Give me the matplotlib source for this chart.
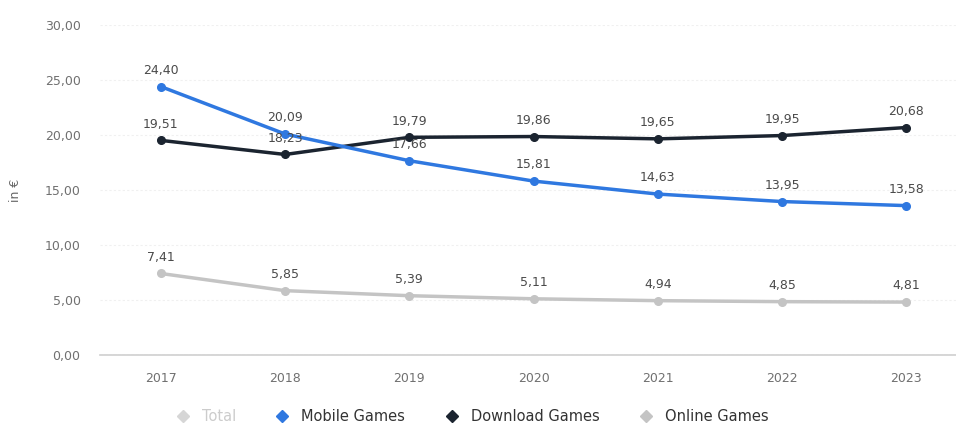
import matplotlib
matplotlib.use("Agg")
import matplotlib.pyplot as plt
from matplotlib.lines import Line2D

# Data
years = ["2017", "2018", "2019", "2020", "2021", "2022", "2023"]
mobile = [24.40, 20.09, 17.66, 15.81, 14.63, 13.95, 13.58]
download = [19.51, 18.23, 19.79, 19.86, 19.65, 19.95, 20.68]
online = [7.41, 5.85, 5.39, 5.11, 4.94, 4.85, 4.81]
yticks = [0, 5, 10, 15, 20, 25, 30]

c_mobile = "#2f78e0"
c_download = "#1b2430"
c_online = "#c4c4c4"
c_total = "#d6d6d6"

plt.rcParams["font.family"] = ["DejaVu Sans"]

fig = plt.figure(figsize=(9.56, 4.26), dpi=100)
ax = fig.add_axes([100 / 956, 71 / 426, 856 / 956, 330 / 426])

x = list(range(len(years)))

def fmt(v):
    return f"{v:.2f}".replace(".", ",")

for vals, col in [(online, c_online), (download, c_download), (mobile, c_mobile)]:
    ax.plot(x, vals, color=col, lw=2.5, marker="o", ms=5.5, zorder=3)
    for xi, v in zip(x, vals):
        ax.annotate(fmt(v), (xi, v), xytext=(0, 7), textcoords="offset points",
                    ha="center", va="bottom", fontsize=9, color="#4a4a4a", zorder=4)

ax.set_xlim(-0.49, 6.40)
ax.set_ylim(0, 30)
ax.set_xticks(x)
ax.set_xticklabels(years)
ax.set_yticks(yticks)
ax.set_yticklabels([fmt(v) for v in yticks])
ax.tick_params(axis="both", length=0, labelsize=9, colors="#707070")
ax.tick_params(axis="x", pad=12)
ax.tick_params(axis="y", pad=14)
ax.set_ylabel("in €", fontsize=9, color="#666666", labelpad=16)

for s in ["top", "right", "left"]:
    ax.spines[s].set_visible(False)
ax.spines["bottom"].set_color("#cfcfcf")
ax.spines["bottom"].set_linewidth(1.2)
ax.yaxis.grid(True, color="#f0f0f0", lw=0.8, ls=(0, (2, 2)))
ax.set_axisbelow(True)

handles = [
    Line2D([], [], ls="none", marker="D", ms=6, color=c_total),
    Line2D([], [], ls="none", marker="D", ms=6, color=c_mobile),
    Line2D([], [], ls="none", marker="D", ms=6, color=c_download),
    Line2D([], [], ls="none", marker="D", ms=6, color=c_online),
]
labels = ["Total", "Mobile Games", "Download Games", "Online Games"]
leg = fig.legend(handles, labels, loc="center", bbox_to_anchor=(0.49, 0.022),
                 ncol=4, frameon=False, fontsize=10.5, handletextpad=0.3,
                 columnspacing=2.2)
for t, c in zip(leg.get_texts(), ["#cccccc", "#333333", "#333333", "#333333"]):
    t.set_color(c)

fig.savefig("out.png", dpi=100)
